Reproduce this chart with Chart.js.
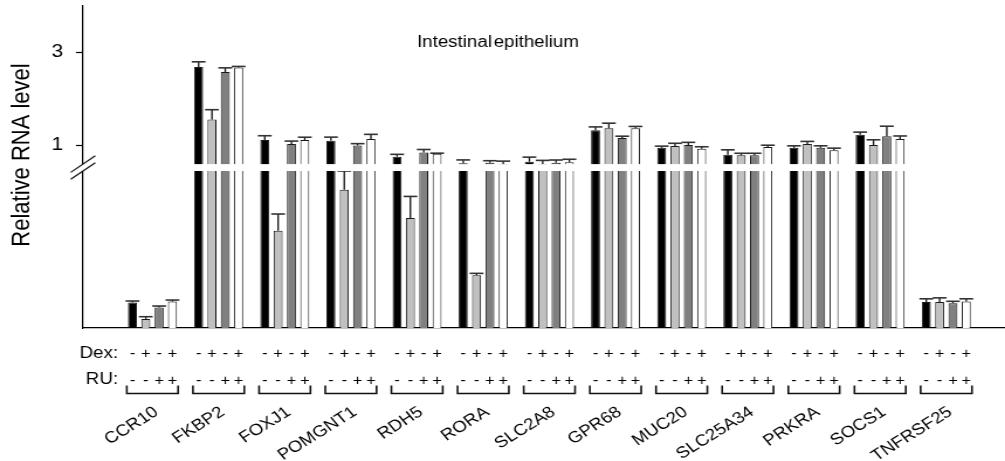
<!DOCTYPE html>
<html>
<head>
<meta charset="utf-8">
<script src="https://cdn.jsdelivr.net/npm/chart.js@4.4.1/dist/chart.umd.min.js"></script>
<style>
  html, body { margin: 0; padding: 0; background: #fff; overflow: hidden; width: 1005px; height: 461px; }
  #wrap { width: 859px; height: 461px; transform: scaleX(1.17); transform-origin: 0 0; }
  canvas { display: block; }
</style>
</head>
<body>
<div id="wrap"><canvas id="c" width="859" height="461"></canvas></div>
<script>
// ---------------- data ----------------
const categories = ['CCR10','FKBP2','FOXJ1','POMGNT1','RDH5','RORA','SLC2A8','GPR68','MUC20','SLC25A34','PRKRA','SOCS1','TNFRSF25'];
const seriesNames = ['Dex- RU-','Dex+ RU-','Dex- RU+','Dex+ RU+'];
const dexSigns = ['-','+','-','+'];
const ruSigns  = ['-','-','+','+'];
const yTickValues = [1, 3];
const yTickLabels = ['1', '3'];
const chartTitle = 'Intestinal epithelium';
const yAxisTitle = 'Relative RNA level';

const ctrlVals  = [0.081, 2.69, 1.12, 1.10, 0.76, 0.62, 0.65, 1.33, 0.95, 0.80, 0.95, 1.23, 0.083];
const ctrlErr   = [0.005, 0.11, 0.09, 0.08, 0.05, 0.07, 0.10, 0.07, 0.036, 0.107, 0.043, 0.058, 0.010];
const dexVals   = [0.029, 1.56, 0.31, 0.44, 0.35, 0.168, 0.60, 1.37, 0.99, 0.79, 1.03, 1.01, 0.083];
const dexErr    = [0.007, 0.21, 0.053, 0.06, 0.069, 0.006, 0.08, 0.11, 0.058, 0.043, 0.058, 0.113, 0.013];
const ruVals    = [0.065, 2.58, 1.03, 1.00, 0.85, 0.63, 0.63, 1.16, 1.01, 0.79, 0.95, 1.20, 0.079];
const ruErr     = [0.005, 0.09, 0.065, 0.04, 0.064, 0.043, 0.058, 0.04, 0.058, 0.043, 0.043, 0.215, 0.006];
const dexRuVals = [0.084, 2.68, 1.12, 1.14, 0.82, 0.60, 0.64, 1.37, 0.93, 0.97, 0.90, 1.14, 0.084];
const dexRuErr  = [0.005, 0.02, 0.058, 0.10, 0.015, 0.064, 0.064, 0.04, 0.043, 0.036, 0.043, 0.065, 0.009];

const seriesValues = [ctrlVals, dexVals, ruVals, dexRuVals];
const seriesErrors = [ctrlErr, dexErr, ruErr, dexRuErr];
const seriesColors = ['#000000', '#c0c0c0', '#808080', '#ffffff'];

// ---------------- broken axis scale ----------------
class BrokenLinearScale extends Chart.LinearScale {
  _frac(v) {
    const b = this.options.brk;
    const min = this.min, max = this.max;
    if (v <= b.lowMax) return b.lowFrac * (v - min) / (b.lowMax - min);
    if (v >= b.highMin) return b.highFrac + (1 - b.highFrac) * (v - b.highMin) / (max - b.highMin);
    return b.lowFrac + (b.highFrac - b.lowFrac) * (v - b.lowMax) / (b.highMin - b.lowMax);
  }
  getPixelForValue(v) {
    return this.bottom - this._frac(v) * (this.bottom - this.top);
  }
  getValueForPixel(p) {
    const b = this.options.brk;
    const f = (this.bottom - p) / (this.bottom - this.top);
    const min = this.min, max = this.max;
    if (f <= b.lowFrac) return min + f / b.lowFrac * (b.lowMax - min);
    if (f >= b.highFrac) return b.highMin + (f - b.highFrac) / (1 - b.highFrac) * (max - b.highMin);
    return b.lowMax + (f - b.lowFrac) / (b.highFrac - b.lowFrac) * (b.highMin - b.lowMax);
  }
}
BrokenLinearScale.id = 'brokenLinear';
BrokenLinearScale.defaults = Chart.LinearScale.defaults;
Chart.register(BrokenLinearScale);

const FONT = '"Liberation Sans", Arial, Helvetica, sans-serif';

// ---------------- plugins ----------------
const errorBars = {
  id: 'errorBars',
  afterDatasetsDraw(chart) {
    const ctx = chart.ctx, y = chart.scales.y;
    ctx.save();
    chart.data.datasets.forEach((ds, j) => {
      const meta = chart.getDatasetMeta(j);
      meta.data.forEach((bar, i) => {
        const v = seriesValues[j][i], e = seriesErrors[j][i];
        const yTop = y.getPixelForValue(v + e);
        ctx.strokeStyle = '#111';
        ctx.lineWidth = 1.3;
        ctx.beginPath();
        ctx.moveTo(bar.x, bar.y);
        ctx.lineTo(bar.x, yTop);
        ctx.stroke();
        ctx.strokeStyle = '#333';
        ctx.lineWidth = 1.6;
        ctx.beginPath();
        ctx.moveTo(bar.x - 5.9, yTop);
        ctx.lineTo(bar.x + 5.9, yTop);
        ctx.stroke();
      });
    });
    ctx.restore();
  }
};

const decorations = {
  id: 'decorations',
  afterDraw(chart) {
    const ctx = chart.ctx, y = chart.scales.y, x = chart.scales.x;
    const b = chart.options.scales.y.brk;
    const area = chart.chartArea;
    const gTop = y.getPixelForValue(b.highMin);
    const gBot = y.getPixelForValue(b.lowMax);
    ctx.save();
    // axis break band
    ctx.fillStyle = '#fff';
    ctx.fillRect(area.left - 2, gTop, area.right - area.left + 2, gBot - gTop);
    // double slash
    ctx.strokeStyle = '#111';
    ctx.lineWidth = 1.2;
    [gTop, gBot].forEach(py => {
      ctx.beginPath();
      ctx.moveTo(area.left - 10.5, py + 8.3);
      ctx.lineTo(area.left + 10.5, py - 8.3);
      ctx.stroke();
    });

    // title
    ctx.fillStyle = '#000';
    ctx.font = '16px ' + FONT;
    ctx.textAlign = 'center';
    ctx.textBaseline = 'alphabetic';
    if ('wordSpacing' in ctx) ctx.wordSpacing = '-3px';
    ctx.fillText(chartTitle, 425.6, 46.5);
    if ('wordSpacing' in ctx) ctx.wordSpacing = '0px';

    // y axis title
    ctx.save();
    ctx.font = '22px ' + FONT;
    ctx.translate(25, 155);
    ctx.rotate(-Math.PI / 2);
    ctx.textAlign = 'center';
    ctx.fillText(yAxisTitle, 0, 0);
    ctx.restore();

    // Dex / RU row headers
    ctx.font = '16px ' + FONT;
    ctx.textAlign = 'right';
    ctx.fillText('Dex:', 100.9, 357.5);
    ctx.fillText('RU:', 100.9, 384);

    // signs, brackets, category labels
    ctx.font = '14px ' + FONT;
    ctx.textAlign = 'center';
    categories.forEach((cat, i) => {
      const bars = chart.data.datasets.map((d, j) => chart.getDatasetMeta(j).data[i]);
      bars.forEach((bar, j) => {
        ctx.fillText(dexSigns[j], bar.x, 357.5);
        ctx.fillText(ruSigns[j], bar.x, 384.5);
      });
      const l = bars[0].x - bars[0].width / 2 - 1;
      const r = bars[3].x + bars[3].width / 2 + 1;
      ctx.strokeStyle = '#111';
      ctx.lineWidth = 1.6;
      ctx.beginPath();
      ctx.moveTo(l, 385.5);
      ctx.lineTo(l, 393.5);
      ctx.lineTo(r, 393.5);
      ctx.lineTo(r, 385.5);
      ctx.stroke();
    });
    ctx.font = '16px ' + FONT;
    ctx.textAlign = 'right';
    categories.forEach((cat, i) => {
      const cx = x.getPixelForValue(i);
      ctx.save();
      ctx.translate(cx + 6, 414);
      ctx.rotate(-36 * Math.PI / 180);
      ctx.fillText(cat, 0, 0);
      ctx.restore();
    });
    ctx.restore();
  }
};

// ---------------- chart ----------------
const datasets = seriesNames.map((name, j) => ({
  label: name,
  data: seriesValues[j].map((v, i) => ({ x: i, y: v })),
  backgroundColor: seriesColors[j],
  borderColor: '#1a1a1a',
  borderWidth: 1,
  categoryPercentage: 0.806,
  barPercentage: 0.675
}));

new Chart(document.getElementById('c'), {
  type: 'bar',
  data: { datasets },
  plugins: [errorBars, decorations],
  options: {
    responsive: false,
    animation: false,
    devicePixelRatio: 1,
    layout: { padding: { top: 6, left: 0, right: 0, bottom: 0 } },
    plugins: { legend: { display: false }, title: { display: false }, tooltip: { enabled: false } },
    scales: {
      x: {
        type: 'linear',
        min: -1.050,
        max: 12.888,
        offset: false,
        grid: { display: false },
        border: { display: true, color: '#000', width: 1.3 },
        ticks: { display: false },
        afterBuildTicks(s) { s.ticks = categories.map((c, i) => ({ value: i })); },
        afterFit(s) { s.height = 133; s.paddingLeft = 0; s.paddingRight = 0; }
      },
      y: {
        type: 'brokenLinear',
        min: 0,
        max: 4,
        brk: { lowMax: 0.5, highMin: 0.6, lowFrac: 0.4876, highFrac: 0.509 },
        grid: { drawOnChartArea: false, drawTicks: true, tickLength: 6, tickColor: '#000', tickWidth: 1.2 },
        border: { display: true, color: '#000', width: 1.2 },
        ticks: {
          color: '#000',
          padding: 11,
          font: { family: FONT, size: 18 },
          callback: (v) => yTickLabels[yTickValues.indexOf(v)]
        },
        afterBuildTicks(s) { s.ticks = yTickValues.map(v => ({ value: v })); },
        afterFit(s) { s.width = 70.94; s.paddingTop = 0; s.paddingBottom = 0; }
      }
    }
  }
});
</script>
</body>
</html>
